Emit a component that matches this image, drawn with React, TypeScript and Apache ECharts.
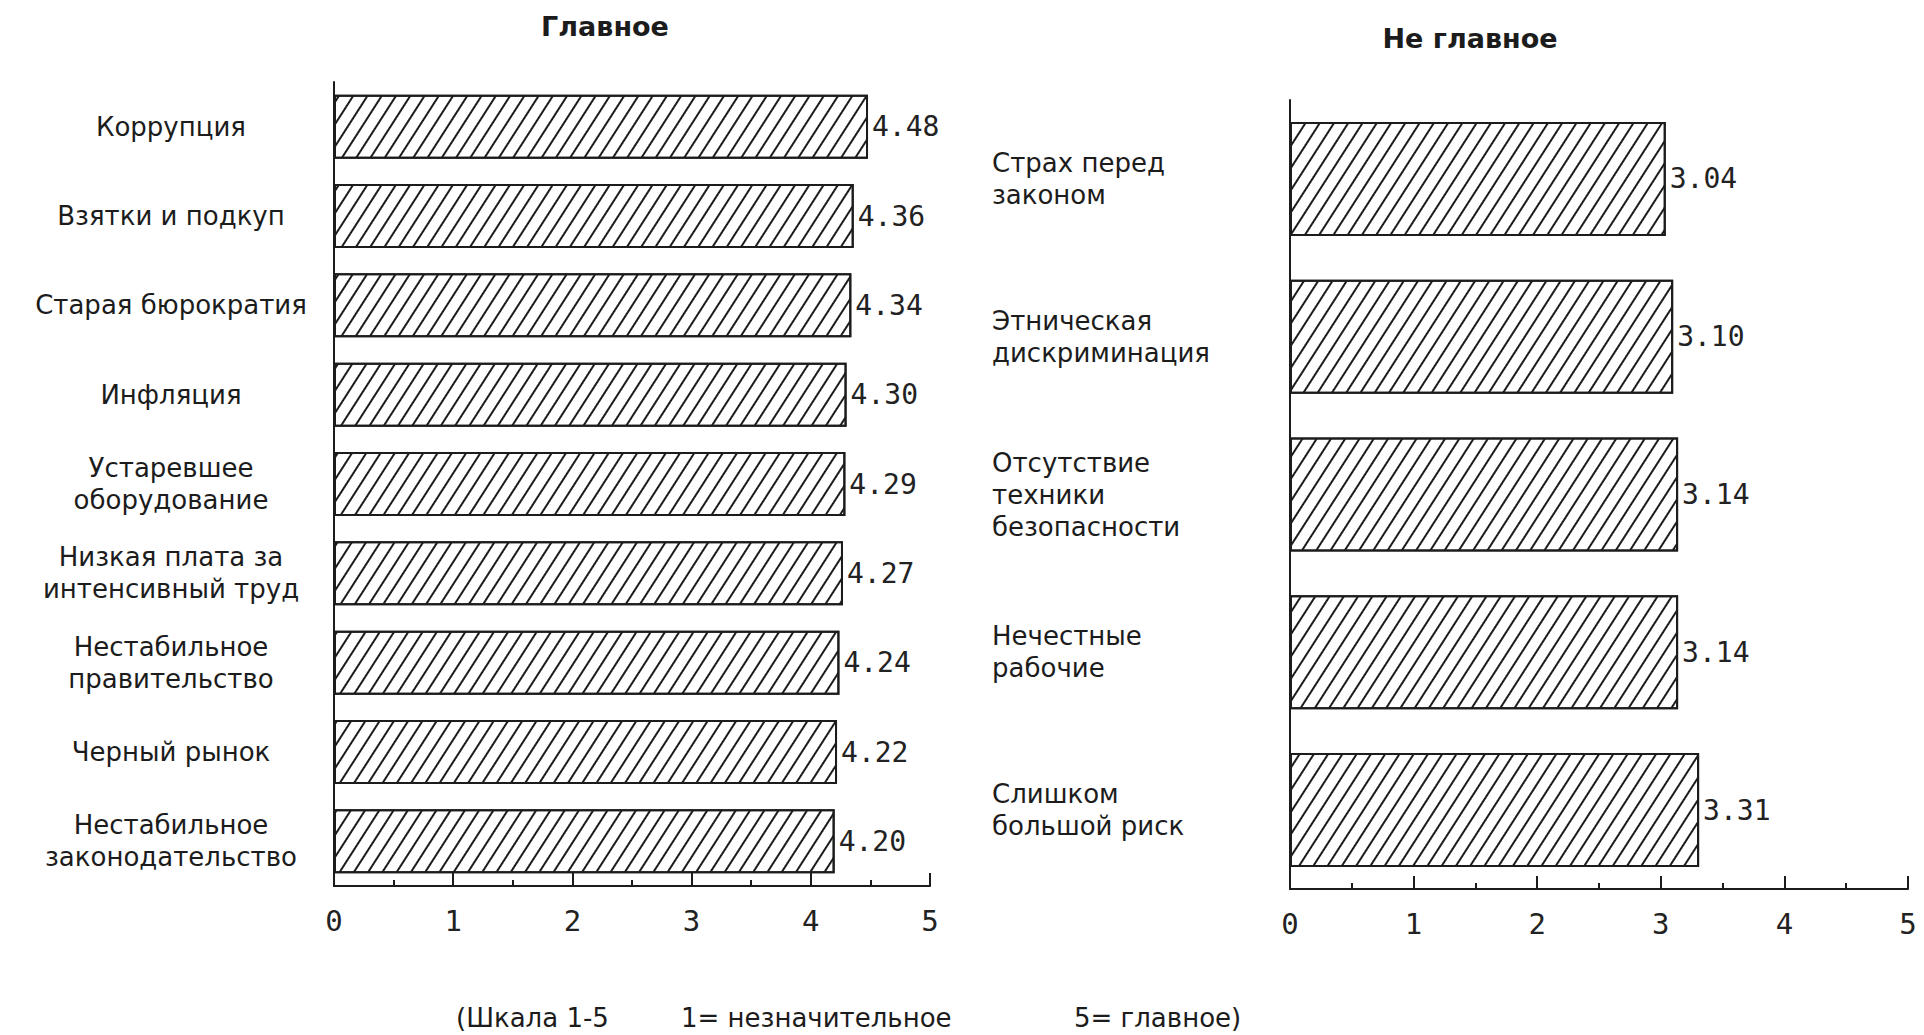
import React, { useEffect, useRef } from "react";
import * as echarts from "echarts";

const mainCategories = [
  "Коррупция",
  "Взятки и подкуп",
  "Старая бюрократия",
  "Инфляция",
  "Устаревшее\nоборудование",
  "Низкая плата за\nинтенсивный труд",
  "Нестабильное\nправительство",
  "Черный рынок",
  "Нестабильное\nзаконодательство",
];
const mainValues = [4.48, 4.36, 4.34, 4.3, 4.29, 4.27, 4.24, 4.22, 4.2];

const minorCategories = [
  "Страх перед\nзаконом",
  "Этническая\nдискриминация",
  "Отсутствие\nтехники\nбезопасности",
  "Нечестные\nрабочие",
  "Слишком\nбольшой риск",
];
const minorValues = [3.04, 3.1, 3.14, 3.14, 3.31];

const titles = ["Главное", "Не главное"];
const footnoteParts = ["(Шкала 1-5", "1= незначительное", "5= главное)"];

const INK = "#1c1c1c";

export default function App() {
  const ref = useRef<HTMLDivElement>(null);

  useEffect(() => {
    if (!ref.current) return;
    const chart = echarts.init(ref.current, undefined, { renderer: "svg" });

    const hatch = {
      symbol: "rect",
      symbolSize: 1,
      color: INK,
      dashArrayX: [1, 0],
      dashArrayY: [2, 10],
      rotation: -1.0,
    };

    const xAxisBase = (gridIndex: number) => ({
      gridIndex,
      type: "value",
      min: 0,
      max: 5,
      interval: 1,
      axisLine: { show: true, lineStyle: { color: INK, width: 2 } },
      axisTick: { show: true, inside: true, length: 13, lineStyle: { color: INK, width: 2 } },
      minorTick: { show: true, splitNumber: 2, length: 6, lineStyle: { color: INK, width: 2 } },
      splitLine: { show: false },
      axisLabel: { fontFamily: "DejaVu Sans Mono", fontSize: 29, color: "#222", margin: 20 },
    });

    const valueLabel = {
      show: true,
      position: "right",
      distance: 4,
      fontFamily: "DejaVu Sans Mono",
      fontSize: 28,
      color: "#222",
      formatter: (p: any) => Number(p.value).toFixed(2),
    };

    const catLabel = {
      fontFamily: "DejaVu Sans",
      fontSize: 26,
      lineHeight: 32,
      color: INK,
    };

    const textStyle = (text: string, bold: boolean, size: number, align: string) => ({
      text,
      fontFamily: "DejaVu Sans",
      fontWeight: bold ? "bold" : "normal",
      fontSize: size,
      fill: INK,
      textAlign: align,
      textVerticalAlign: "middle",
    });

    const option: any = {
      animation: false,
      backgroundColor: "#fff",
      grid: [
        { left: 334, right: 994, top: 82, bottom: 149 },
        { left: 1290, right: 16, top: 100, bottom: 146 },
      ],
      xAxis: [xAxisBase(0), xAxisBase(1)],
      yAxis: [
        {
          gridIndex: 0,
          type: "category",
          data: mainCategories,
          inverse: true,
          axisLine: { show: true, lineStyle: { color: INK, width: 2 } },
          axisTick: { show: false },
          axisLabel: { ...catLabel, align: "center", margin: 163 },
        },
        {
          gridIndex: 1,
          type: "category",
          data: minorCategories,
          inverse: true,
          axisLine: { show: true, lineStyle: { color: INK, width: 2 } },
          axisTick: { show: false },
          axisLabel: { ...catLabel, align: "left", margin: 298 },
        },
      ],
      series: [
        {
          type: "bar",
          xAxisIndex: 0,
          yAxisIndex: 0,
          data: mainValues,
          barWidth: 64,
          itemStyle: { color: "#fff", borderColor: INK, borderWidth: 2, decal: hatch },
          label: valueLabel,
        },
        {
          type: "bar",
          xAxisIndex: 1,
          yAxisIndex: 1,
          data: minorValues,
          barWidth: 114,
          itemStyle: { color: "#fff", borderColor: INK, borderWidth: 2, decal: hatch },
          label: valueLabel,
        },
      ],
      graphic: [
        { type: "text", x: 605, y: 26, style: textStyle(titles[0], true, 27, "center") },
        { type: "text", x: 1470, y: 38, style: textStyle(titles[1], true, 27, "center") },
        { type: "text", x: 456, y: 1018, style: textStyle(footnoteParts[0], false, 26, "left") },
        { type: "text", x: 681, y: 1018, style: textStyle(footnoteParts[1], false, 26, "left") },
        { type: "text", x: 1074, y: 1018, style: textStyle(footnoteParts[2], false, 26, "left") },
      ],
    };

    chart.setOption(option);
    return () => chart.dispose();
  }, []);

  return (
    <div
      ref={ref}
      style={{ position: "fixed", left: 0, top: 0, width: 1924, height: 1035, background: "#fff" }}
    />
  );
}
